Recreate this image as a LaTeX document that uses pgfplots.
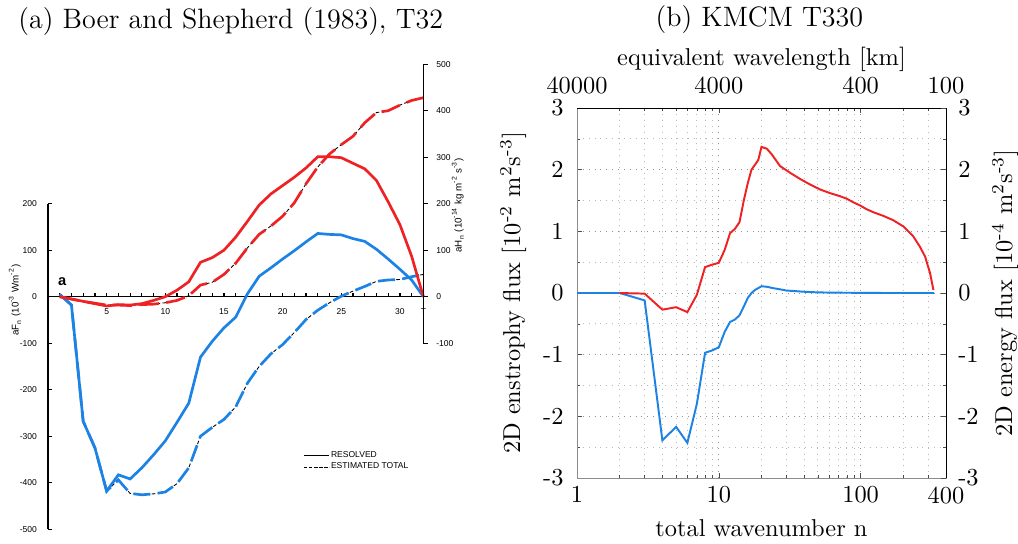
\documentclass[border=0pt]{standalone}
\usepackage{fontspec}
\usepackage{pgfplots}
\usepackage{pgfplotstable}
\pgfplotsset{compat=1.18}
\newfontfamily\helv{Liberation Sans}
\definecolor{cred}{RGB}{238,34,36}
\definecolor{cblue}{RGB}{28,131,229}
\newcommand\lpfont{\helv\fontsize{3.5}{4}\selectfont}
\newcommand\lplab{\helv\fontsize{4}{4.8}\selectfont}

% ---------- left panel (Boer and Shepherd 1983) ----------
\pgfplotstableread{
n v
1 0
2 -5
3 -10
4 -15
5 -20
6 -17
7 -18
8 -15
9 -8
10 0
11 14
12 32
13 74
14 84
15 100
16 128
17 162
18 197
19 221
20 239
21 257
22 277
23 301
24 301
25 299
26 287
27 275
28 250
29 204
30 155
31 87
32 0
}\redres
\pgfplotstableread{
n v
1 0
2 -5
3 -10
4 -14
5 -18
6 -18
7 -19
8 -17
9 -16
10 -13
11 -8
12 2
13 25
14 31
15 48
16 72
17 105
18 134
19 152
20 173
21 202
22 243
23 279
24 307
25 327
26 345
27 374
28 396
29 400
30 412
31 422
32 428
}\redest
\pgfplotstableread{
n v
1 5
2 -18
3 -268
4 -325
5 -418
6 -383
7 -392
8 -368
9 -340
10 -310
11 -270
12 -229
13 -130
14 -96
15 -67
16 -44
17 6
18 44
19 62
20 81
21 99
22 118
23 136
24 134
25 133
26 125
27 119
28 102
29 81
30 59
31 36
32 0
}\blueres
\pgfplotstableread{
n v
1 5
2 -18
3 -268
4 -325
5 -418
6 -394
7 -423
8 -426
9 -424
10 -420
11 -402
12 -368
13 -300
14 -281
15 -264
16 -237
17 -186
18 -150
19 -123
20 -103
21 -77
22 -49
23 -29
24 -13
25 1
26 12
27 22
28 33
29 36
30 37
31 43
32 48
}\blueest

% ---------- right panel (KMCM T330) ----------
\pgfplotstableread{
n v
1 0
2 0
3 -0.12
4 -2.39
5 -2.17
6 -2.43
7 -1.80
8 -0.97
9 -0.93
10 -0.88
11 -0.63
12 -0.47
13 -0.43
14 -0.36
15 -0.22
16 -0.08
17 0.00
18 0.05
19 0.08
20 0.11
22 0.10
24 0.08
27 0.06
30 0.04
35 0.03
40 0.02
50 0.01
70 0.005
100 0.003
150 0
330 0
}\kblue
\pgfplotstableread{
n v
2 0
3 -0.01
4 -0.27
5 -0.23
6 -0.31
7 -0.03
8 0.42
9 0.46
10 0.49
11 0.70
12 0.97
13 1.04
14 1.15
15 1.50
16 1.78
17 2.00
18 2.08
19 2.16
20 2.37
21.8 2.34
23.6 2.25
27 2.06
31.8 1.95
37.4 1.85
44 1.76
51.7 1.68
60.8 1.62
71.6 1.57
79.8 1.53
88.9 1.47
99 1.42
110 1.36
123 1.31
145 1.25
170 1.18
200 1.08
235 0.92
262 0.75
285 0.59
309 0.32
326 0.05
}\kred

\begin{document}
\begin{tikzpicture}
\useasboundingbox (0,0) rectangle (417.38pt,222.63pt);

% ===== left panel: left axis (aF_n) with the curves =====
\begin{axis}[
  at={(19.68pt,5.66pt)}, anchor=south west, scale only axis,
  width=153.9pt, height=133.46pt,
  xmin=0, xmax=32, ymin=-500, ymax=200,
  axis x line=middle, axis y line=left,
  axis line style={-, line width=0.6pt, black},
  hide obscured x ticks=false, hide obscured y ticks=false,
  xtick={1,...,31},
  xticklabels={{},{},{},{},5,{},{},{},{},10,{},{},{},{},15,{},{},{},{},20,{},{},{},{},25,{},{},{},{},30,{}},
  extra x ticks={32}, extra x tick labels={T},
  extra x tick style={major tick length=0pt},
  ytick={-500,-400,...,200},
  tick align=inside, major tick length=1.7pt,
  tick style={black, line width=0.5pt},
  tick label style={font=\lpfont},
  /pgf/number format/assume math mode=true,
  xticklabel style={yshift=-1.2pt},
  yticklabel style={xshift=-1pt},
  ylabel={aF\textsubscript{n} (10\textsuperscript{-3} Wm\textsuperscript{-2})},
  ylabel style={font=\lplab, at={(axis description cs:-0.088,0.704)}, anchor=center},
  title={(a) Boer and Shepherd (1983), T32},
  title style={font=\fontsize{11.5}{14}\selectfont, at={(axis description cs:0.487,1.537)}, anchor=base, yshift=-6pt},
  clip=false,
  legend image code/.code={\draw[#1] (0pt,0pt) -- (10.5pt,0pt);},
  legend style={draw=none, fill=none, font=\lpfont, inner sep=0pt,
    nodes={inner sep=0.45pt}, row sep=0pt,
    at={(0.679,0.245)}, anchor=north west},
  legend cell align=left,
]
\addlegendimage{black, line width=0.4pt}
\addlegendentry{RESOLVED}
\addlegendimage{black, line width=0.4pt, dash pattern=on 1.4pt off 0.7pt}
\addlegendentry{ESTIMATED TOTAL}
% thin black originals underneath
\addplot[forget plot, black, line width=0.35pt] table[x=n,y=v] {\redres};
\addplot[forget plot, black, line width=0.35pt, dash pattern=on 1.5pt off 1pt] table[x=n,y=v] {\redest};
\addplot[forget plot, black, line width=0.35pt] table[x=n,y=v] {\blueres};
\addplot[forget plot, black, line width=0.35pt, dash pattern=on 1.5pt off 1pt] table[x=n,y=v] {\blueest};
% coloured overlays
\addplot[forget plot, cblue, line width=1.1pt, dash pattern=on 7pt off 3pt] table[x=n,y=v] {\blueest};
\addplot[forget plot, cblue, line width=1.1pt] table[x=n,y=v] {\blueres};
\addplot[forget plot, cred, line width=1.1pt, dash pattern=on 8pt off 3pt] table[x=n,y=v] {\redest};
\addplot[forget plot, cred, line width=1.1pt] table[x=n,y=v] {\redres};
\node[font=\helv\bfseries\fontsize{6}{7}\selectfont] at (axis cs:1.2,32) {a};
\end{axis}

% ===== left panel: right axis (aH_n) =====
\begin{axis}[
  at={(19.68pt,81.92pt)}, anchor=south west, scale only axis,
  width=153.9pt, height=114.39pt,
  xmin=0, xmax=32, ymin=-100, ymax=500,
  axis x line=none, axis y line=right,
  axis line style={-, line width=0.6pt, black},
  ytick={-100,0,...,500},
  tick align=outside, major tick length=1.8pt,
  tick style={black, line width=0.5pt},
  tick label style={font=\lpfont},
  /pgf/number format/assume math mode=true,
  ylabel={aH\textsubscript{n} (10\textsuperscript{-14} kg m\textsuperscript{-2} s\textsuperscript{-3})},
  ylabel style={font=\lplab, at={(axis description cs:1.092,0.495)}, anchor=center},
]
\end{axis}

% ===== right panel: main axis =====
\begin{axis}[
  at={(236.57pt,26.65pt)}, anchor=south west, scale only axis,
  width=151.29pt, height=151.7pt,
  xmode=log, xmin=1, xmax=400, ymin=-3, ymax=3,
  xtick={1,10,100,400}, xticklabels={1,10,100,400},
  minor xtick={2,3,4,5,6,7,8,9,20,30,40,50,60,70,80,90,200,300},
  ytick={-3,-2,-1,0,1,2,3},
  minor ytick={-2.5,-1.5,-0.5,0.5,1.5,2.5},
  /pgf/number format/assume math mode=true,
  yticklabel style={xshift=-2pt},
  grid=both,
  major grid style={dotted, gray!85, line width=0.4pt},
  minor grid style={dotted, gray!55, line width=0.4pt},
  tick style={black!70},
  major tick length=2.2pt, minor tick length=1.4pt,
  axis line style={black},
  y axis line style={black!45},
  xlabel={total wavenumber n},
  xlabel style={at={(axis description cs:0.5,-0.157)}, anchor=base},
  ylabel={2D enstrophy flux [10\textsuperscript{-2} m\textsuperscript{2}s\textsuperscript{-3}]},
  ylabel style={at={(axis description cs:-0.173,0.5)}, anchor=center},
]
\addplot[cblue, line width=0.8pt] table[x=n,y=v] {\kblue};
\addplot[cred, line width=0.8pt] table[x=n,y=v] {\kred};
\end{axis}

% ===== right panel: top axis (equivalent wavelength) =====
\begin{axis}[
  at={(236.57pt,26.65pt)}, anchor=south west, scale only axis,
  width=151.29pt, height=151.7pt,
  xmode=log, xmin=1, xmax=400, ymin=-3, ymax=3,
  axis x line*=top, axis y line=none, axis line style={-, black},
  xtick={1,10,100,400}, xticklabels={40000,4000,400,100},
  xticklabel pos=right,
  major tick length=0pt, minor tick length=0pt,
  xticklabel style={yshift=2pt},
  xlabel={equivalent wavelength [km]},
  xlabel style={at={(axis description cs:0.5,1.116)}, anchor=base},
  title={(b) KMCM T330},
  title style={font=\fontsize{11.5}{14}\selectfont, at={(axis description cs:0.4945,1.2216)}, anchor=base, yshift=-6pt},
]
\end{axis}

% ===== right panel: right axis (energy flux) =====
\begin{axis}[
  at={(236.57pt,26.65pt)}, anchor=south west, scale only axis,
  width=151.29pt, height=151.7pt,
  xmode=log, xmin=1, xmax=400, ymin=-3, ymax=3,
  axis x line=none, axis y line=right, axis line style={-, black},
  ytick={-3,-2,-1,0,1,2,3},
  minor ytick={-2.5,-1.5,-0.5,0.5,1.5,2.5},
  tick align=inside,
  tick style={black!70},
  major tick length=2.2pt, minor tick length=1.4pt,
  /pgf/number format/assume math mode=true,
  yticklabel style={xshift=1.5pt},
  ylabel={2D energy flux [10\textsuperscript{-4} m\textsuperscript{2}s\textsuperscript{-3}]},
  ylabel style={at={(axis description cs:1.16,0.5)}, anchor=center},
]
\end{axis}
\end{tikzpicture}
\end{document}
